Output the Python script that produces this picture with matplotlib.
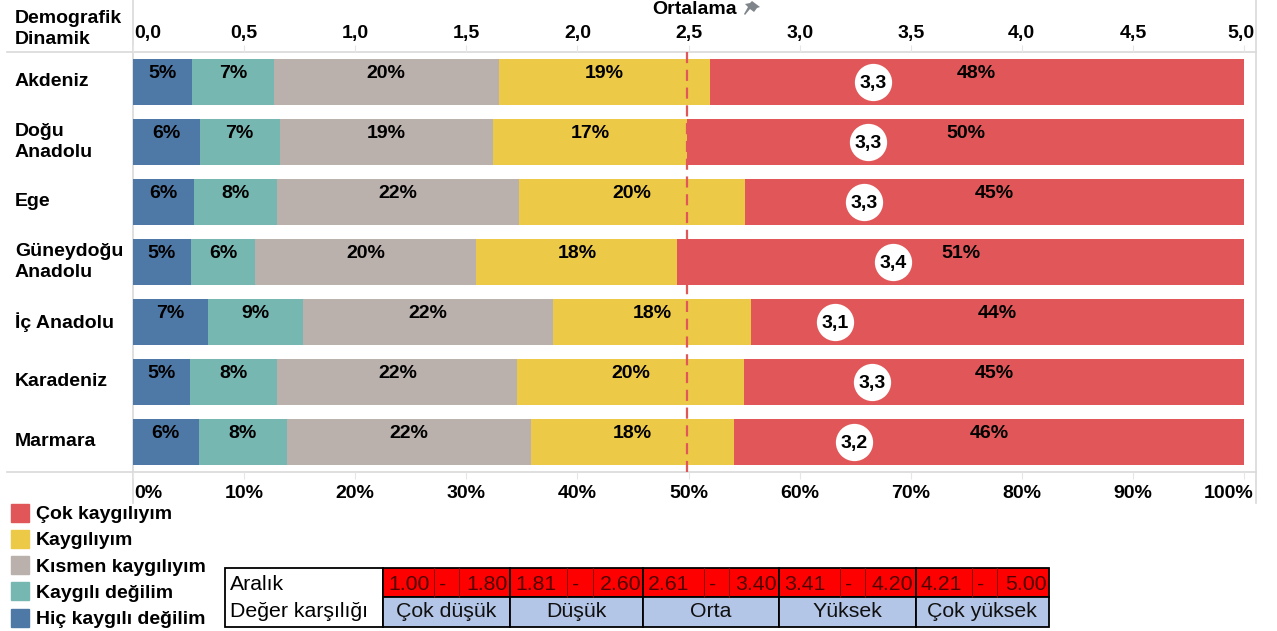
import matplotlib
matplotlib.use('Agg')
import matplotlib.pyplot as plt
from matplotlib.patches import Rectangle, Polygon
from matplotlib.transforms import ScaledTranslation

regions = ['Akdeniz', 'Doğu\nAnadolu', 'Ege', 'Güneydoğu\nAnadolu', 'İç Anadolu', 'Karadeniz', 'Marmara']
hic = [5.3, 6.0, 5.5, 5.2, 6.75, 5.1, 5.9]
degil = [7.4, 7.2, 7.5, 5.8, 8.55, 7.9, 8.0]
kismen = [20.2, 19.2, 21.7, 19.9, 22.5, 21.6, 21.9]
kaygili = [19.0, 17.5, 20.4, 18.1, 17.8, 20.4, 18.3]
cok = [48.1, 50.1, 44.9, 51.0, 44.4, 45.0, 45.9]
labels_hic = ['5%', '6%', '6%', '5%', '7%', '5%', '6%']
labels_degil = ['7%', '7%', '8%', '6%', '9%', '8%', '8%']
labels_kismen = ['20%', '19%', '22%', '20%', '22%', '22%', '22%']
labels_kaygili = ['19%', '17%', '20%', '18%', '18%', '20%', '18%']
labels_cok = ['48%', '50%', '45%', '51%', '44%', '45%', '46%']
means = [3.33, 3.31, 3.29, 3.42, 3.16, 3.325, 3.245]
mean_labels = ['3,3', '3,3', '3,3', '3,4', '3,1', '3,3', '3,2']
average = 2.495
series_names = ['Hiç kaygılı değilim', 'Kaygılı değilim', 'Kısmen kaygılıyım', 'Kaygılıyım', 'Çok kaygılıyım']
colors = ['#4e79a7', '#76b7b2', '#bab0ac', '#edc948', '#e15759']
range_lo = ['1.00', '1.81', '2.61', '3.41', '4.21']
range_hi = ['1.80', '2.60', '3.40', '4.20', '5.00']
range_names = ['Çok düşük', 'Düşük', 'Orta', 'Yüksek', 'Çok yüksek']

W, H = 1277, 631
plt.rcParams['font.family'] = ['Liberation Sans', 'DejaVu Sans']
fig = plt.figure(figsize=(W / 100, H / 100), dpi=100)
GRID = '#d9d9d9'
FS = 14
LS = 1.32


def px_axes(l, t, r, b):
    return fig.add_axes([l / W, 1 - b / H, (r - l) / W, (b - t) / H])


def shift(label, dx_px):
    label.set_transform(label.get_transform() + ScaledTranslation(dx_px / 100, 0, fig.dpi_scale_trans))


# pixel overlay for furniture
ov = fig.add_axes([0, 0, 1, 1], zorder=0)
ov.set_xlim(0, W)
ov.set_ylim(H, 0)
ov.axis('off')
ov.plot([132.5, 132.5], [0, 503], color=GRID, lw=1.2)
ov.plot([1256, 1256], [0, 503], color=GRID, lw=1.2)
ov.plot([7, 1256], [52, 52], color=GRID, lw=1.2)
ov.plot([7, 1256], [472, 472], color=GRID, lw=1.2)
ov.text(15, 29, 'Demografik\nDinamik', fontsize=FS, fontweight='bold', va='center', ha='left', linespacing=LS)

# main axes
ax = px_axes(133, 52, 1256, 472)
ax.patch.set_alpha(0)
ppct = (1244 - 133) / 100
ax.set_xlim(0, (1256 - 133) / ppct)
ax.set_ylim(6.5, -0.5)
for s in ax.spines.values():
    s.set_visible(False)
left = [0.0] * 7
series = [hic, degil, kismen, kaygili, cok]
labs = [labels_hic, labels_degil, labels_kismen, labels_kaygili, labels_cok]
for vals, col, name, lb in zip(series, colors, series_names, labs):
    ax.barh(range(7), vals, left=left, height=46 / 60, color=col, label=name, zorder=2)
    for i, v in enumerate(vals):
        ax.text(left[i] + v / 2, i - 0.15, lb[i], ha='center', va='center', fontsize=FS, fontweight='bold', zorder=5)
    left = [a + b for a, b in zip(left, vals)]
ax.set_yticks(range(7))
ax.set_yticklabels([])
ax.tick_params(axis='y', length=0)
for i, r in enumerate(regions):
    ov.text(15, 82 + 60 * i, r, fontsize=FS, fontweight='bold', va='center', ha='left', linespacing=LS)
pct_ticks = list(range(0, 101, 10))
ax.set_xticks(pct_ticks)
ax.set_xticklabels([f'{t}%' for t in pct_ticks], fontsize=FS, fontweight='bold')
ax.tick_params(axis='x', length=5, color='#e6e6e6', pad=4, bottom=True)
tl = ax.get_xticklabels()
tl[0].set_ha('left')
shift(tl[0], 1)
shift(tl[-1], -15)

# top scale: 0-5 mean score
ax2 = ax.twiny()
ax2.patch.set_alpha(0)
ax2.set_xlim(0, (1256 - 133) / (ppct * 20))
for s in ax2.spines.values():
    s.set_visible(False)
top_ticks = [0, .5, 1, 1.5, 2, 2.5, 3, 3.5, 4, 4.5, 5]
ax2.set_xticks(top_ticks)
ax2.set_xticklabels([f'{t:.1f}'.replace('.', ',') for t in top_ticks], fontsize=FS, fontweight='bold')
ax2.tick_params(axis='x', length=5, color='#e6e6e6', pad=2.2)
t2 = ax2.get_xticklabels()
t2[0].set_ha('left')
shift(t2[0], 1)
shift(t2[-1], -3.5)
ax2.axvline(average, color='#e15759', ls=(0, (5, 3)), lw=1.6, zorder=4)
for i, (m, l) in enumerate(zip(means, mean_labels)):
    ax2.scatter([m], [i], s=720, color='white', zorder=6, linewidths=0)
    ax2.text(m, i + 0.02, l, ha='center', va='center', fontsize=FS, fontweight='bold', zorder=7)
ov.text(694.5, 9.5, 'Ortalama', fontsize=FS, fontweight='bold', ha='center', va='center')
# pin icon (no installed font has this symbol)
ov.add_patch(Polygon([(752, 1), (760, 7), (757, 8), (754, 12), (750, 9), (745, 15),
                      (744, 14), (748, 7), (745, 4), (750, 3)], closed=True, fc='#7f858a', ec='none'))

# legend
leg_y = [512.5, 538.5, 565, 591, 617.5]
for name, y in zip(series_names[::-1], leg_y):
    col = colors[series_names.index(name)]
    ov.add_patch(Rectangle((11, y - 9), 18, 18, color=col))
    ov.text(36, y + 2, name, fontsize=FS, fontweight='bold', ha='left', va='center')

# range table
ty0, ty1, ty2 = 567.5, 596.5, 626.5
groups = [383, 510, 643, 779, 915.5, 1048.5]
cuts = [(434, 459), (567, 593), (704, 729), (840, 865), (972, 997)]
TFS = 15.3
ov.add_patch(Rectangle((224.5, ty0), 158.5, ty2 - ty0, fc='white', ec='black', lw=1.3))
ov.text(229.5, (ty0 + ty1) / 2 + 2, 'Aralık', fontsize=TFS, ha='left', va='center')
ov.text(229.5, (ty1 + ty2) / 2, 'Değer karşılığı', fontsize=TFS, ha='left', va='center')
for i in range(5):
    a, b = groups[i], groups[i + 1]
    ov.add_patch(Rectangle((a, ty0), b - a, ty1 - ty0, fc='#ff0000', ec='black', lw=1.3))
    ov.add_patch(Rectangle((a, ty1), b - a, ty2 - ty1, fc='#b4c6e7', ec='black', lw=1.3))
    c1, c2 = cuts[i]
    ov.plot([c1, c1], [ty0, ty1], color='#8a0000', lw=0.7)
    ov.plot([c2, c2], [ty0, ty1], color='#8a0000', lw=0.7)
    ov.text(a + 5, (ty0 + ty1) / 2 + 2, range_lo[i], fontsize=TFS, ha='left', va='center', color='#500000')
    ov.text(c1 + 5, (ty0 + ty1) / 2 + 2, '-', fontsize=TFS, ha='left', va='center', color='#500000')
    ov.text(b - 2, (ty0 + ty1) / 2 + 2, range_hi[i], fontsize=TFS, ha='right', va='center', color='#500000')
    ov.text((a + b) / 2, (ty1 + ty2) / 2, range_names[i], fontsize=TFS, ha='center', va='center', color='#101010')

fig.savefig('out.png', dpi=100)
